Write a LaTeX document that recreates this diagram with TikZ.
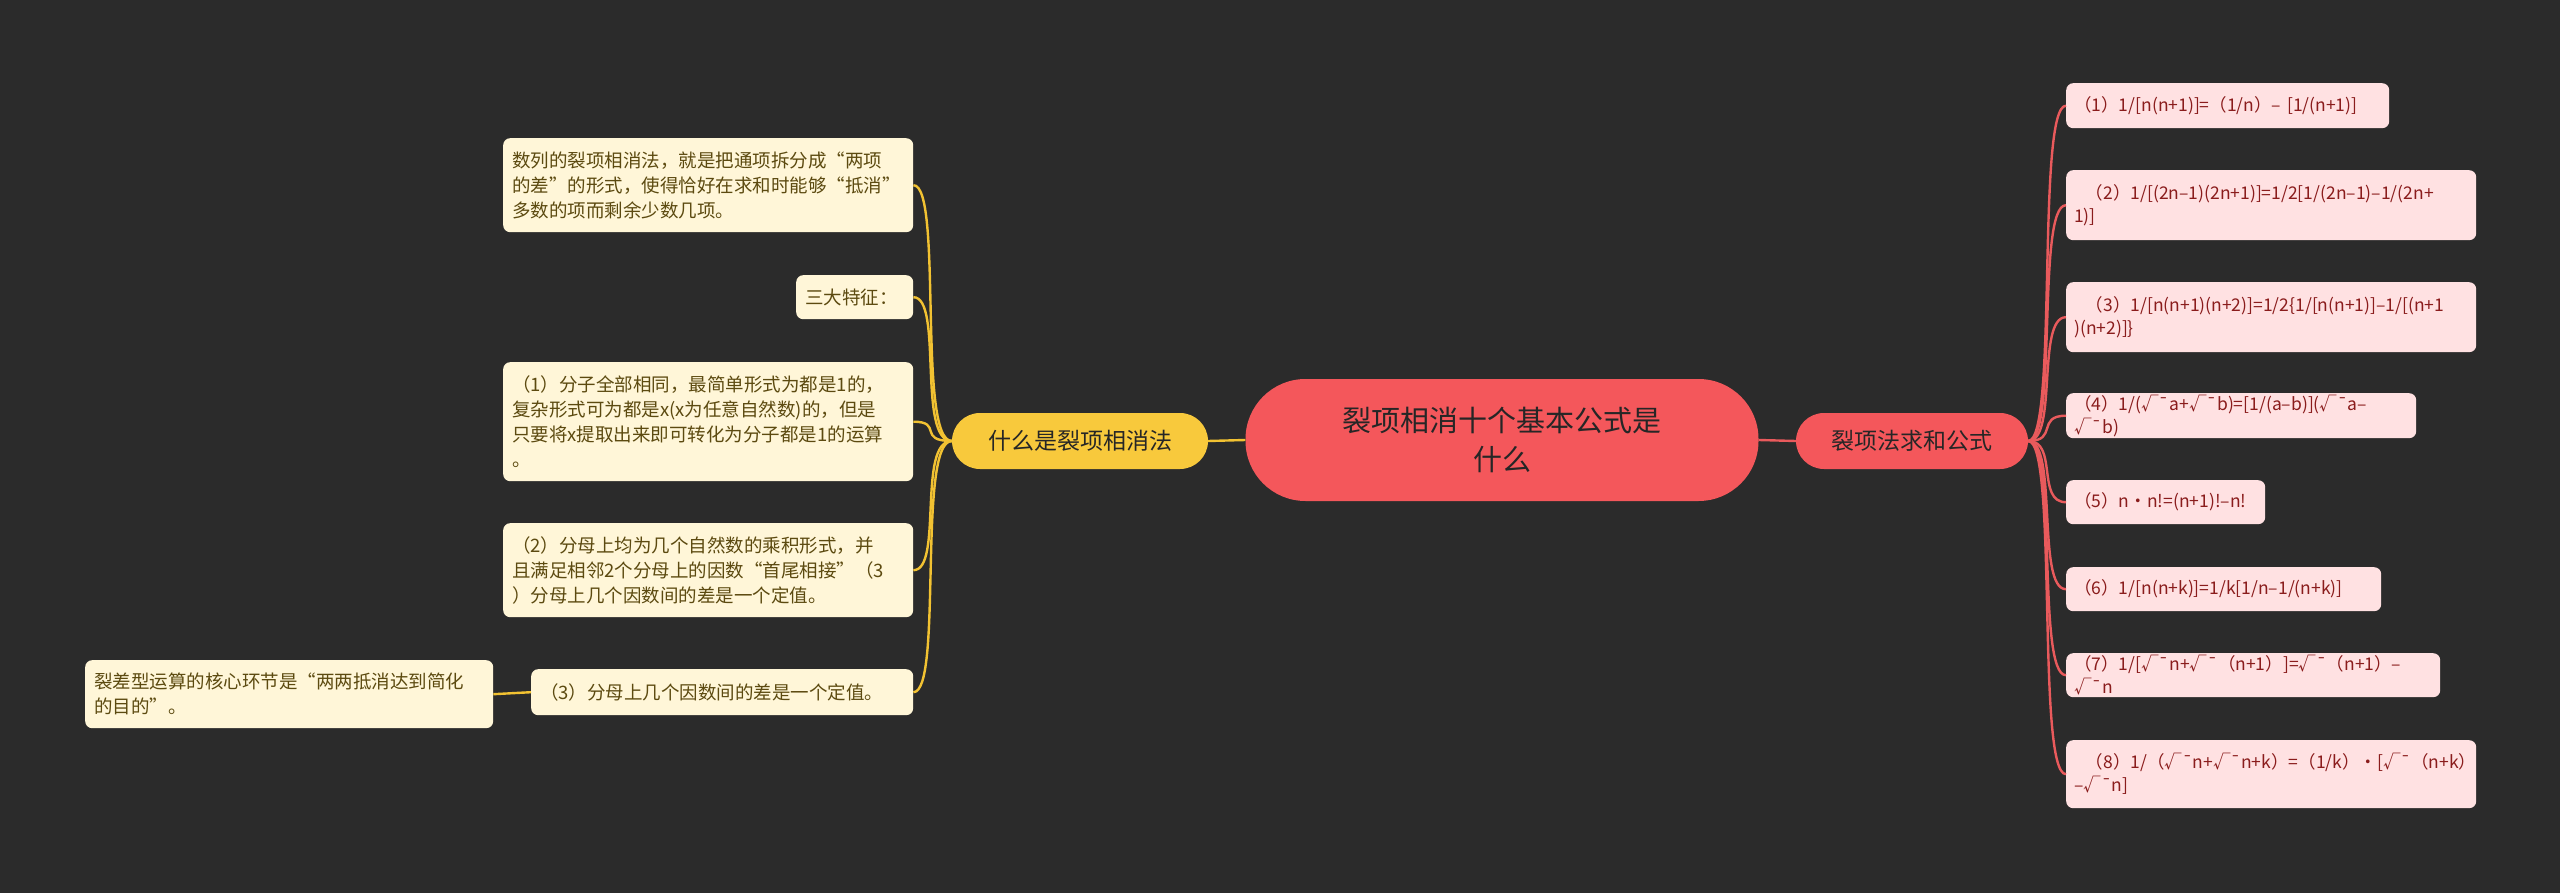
\documentclass[tikz,border=0pt]{standalone}
\usepackage{fontspec}
\setmainfont{Noto Sans CJK SC}
\usetikzlibrary{calc}
\definecolor{bg}{HTML}{2B2B2B}
\definecolor{redc}{HTML}{F4575B}
\definecolor{yel}{HTML}{F8C93C}
\definecolor{pinkf}{HTML}{FFE1E2}
\definecolor{pinkt}{HTML}{8A1C1C}
\definecolor{creamf}{HTML}{FFF6D8}
\definecolor{creamt}{HTML}{5C4A10}
\definecolor{rline}{HTML}{E95A5C}
\definecolor{yline}{HTML}{F2C232}
\tikzset{
 leafR/.style={fill=pinkf,text=pinkt,rounded corners=7,anchor=north west,align=left,inner xsep=8,inner ysep=0,font=\fontsize{17.5}{23}\selectfont},
 leafL/.style={fill=creamf,text=creamt,rounded corners=7,anchor=north west,align=left,inner xsep=9,inner ysep=0,font=\fontsize{18.5}{25}\selectfont},
 rl/.style={draw=rline,line width=2.4},
 yl/.style={draw=yline,line width=2.4},
}
\begin{document}
\begin{tikzpicture}[x=1pt,y=-1pt]
\fill[bg] (0,0) rectangle (2560,893);
\useasboundingbox (0,0) rectangle (2560,893);
% center
\node[fill=redc,rounded corners=60,minimum width=513,minimum height=122,align=center,text=black!85,font=\fontsize{29}{39}\selectfont] (c) at (1502,440) {裂项相消十个基本公式是\\什么};
\node[fill=yel,rounded corners=28,minimum width=256,minimum height=56,text=black!85,font=\fontsize{23}{28}\selectfont] (m) at (1080,441) {什么是裂项相消法};
\node[fill=redc,rounded corners=28,minimum width=232,minimum height=56,text=black!85,font=\fontsize{23}{28}\selectfont] (r) at (1912,441) {裂项法求和公式};
% right leaves
\node[leafR,minimum width=323,minimum height=45,text width=307] (r1) at (2066,83) {（1）1/[n(n+1)]=（1/n）– [1/(n+1)]};
\node[leafR,minimum width=410,minimum height=70,text width=394] (r2) at (2066,170) {\ \ （2）1/[(2n–1)(2n+1)]=1/2[1/(2n–1)–1/(2n+\\1)]};
\node[leafR,minimum width=410,minimum height=70,text width=394] (r3) at (2066,282) {\ \ （3）1/[n(n+1)(n+2)]=1/2\{1/[n(n+1)]–1/[(n+1\\)(n+2)]\}};
\node[leafR,minimum width=350,minimum height=45,text width=334] (r4) at (2066,393) {（4）1/(√¯a+√¯b)=[1/(a–b)](√¯a–√¯b)};
\node[leafR,minimum width=199,minimum height=44,text width=183] (r5) at (2066,480) {（5）n·n!=(n+1)!–n!};
\node[leafR,minimum width=315,minimum height=44,text width=299] (r6) at (2066,567) {（6）1/[n(n+k)]=1/k[1/n–1/(n+k)]};
\node[leafR,minimum width=374,minimum height=44,text width=358] (r7) at (2066,653) {（7）1/[√¯n+√¯（n+1）]=√¯（n+1）–√¯n};
\node[leafR,minimum width=410,minimum height=68,text width=394] (r8) at (2066,740) {\ \ （8）1/（√¯n+√¯n+k）=（1/k）·[√¯（n+k）\\–√¯n]};
% left leaves
\node[leafL,minimum width=410,minimum height=94,text width=392] (a) at (503,138) {数列的裂项相消法，就是把通项拆分成“两项\\的差”的形式，使得恰好在求和时能够“抵消”\\多数的项而剩余少数几项。};
\node[leafL,minimum width=117,minimum height=44,text width=99] (b) at (796,275) {三大特征：};
\node[leafL,minimum width=410,minimum height=119,text width=392] (l1) at (503,362) {（1）分子全部相同，最简单形式为都是1的，\\复杂形式可为都是x(x为任意自然数)的，但是\\只要将x提取出来即可转化为分子都是1的运算\\。};
\node[leafL,minimum width=410,minimum height=94,text width=392] (l2) at (503,523) {（2）分母上均为几个自然数的乘积形式，并\\且满足相邻2个分母上的因数“首尾相接”（3\\）分母上几个因数间的差是一个定值。};
\node[leafL,minimum width=382,minimum height=46,text width=364] (l3) at (531,669) {（3）分母上几个因数间的差是一个定值。};
\node[leafL,minimum width=408,minimum height=68,text width=390] (l4) at (85,660) {裂差型运算的核心环节是“两两抵消达到简化\\的目的”。};
% connectors
\draw[rl] (c.east) -- (r.west);
\draw[yl] (c.west) -- (m.east);
\foreach \n in {r1,r2,r3,r4,r5,r6,r7,r8}
  \draw[rl] (r.east) .. controls ($(r.east)+(30,0)$) and ($(\n.west)+(-30,0)$) .. (\n.west);
\foreach \n in {a,b,l1,l2,l3}
  \draw[yl] (m.west) .. controls ($(m.west)+(-35,0)$) and ($(\n.east)+(30,0)$) .. (\n.east);
\draw[yl] (l3.west) -- (l4.east);
\end{tikzpicture}
\end{document}
